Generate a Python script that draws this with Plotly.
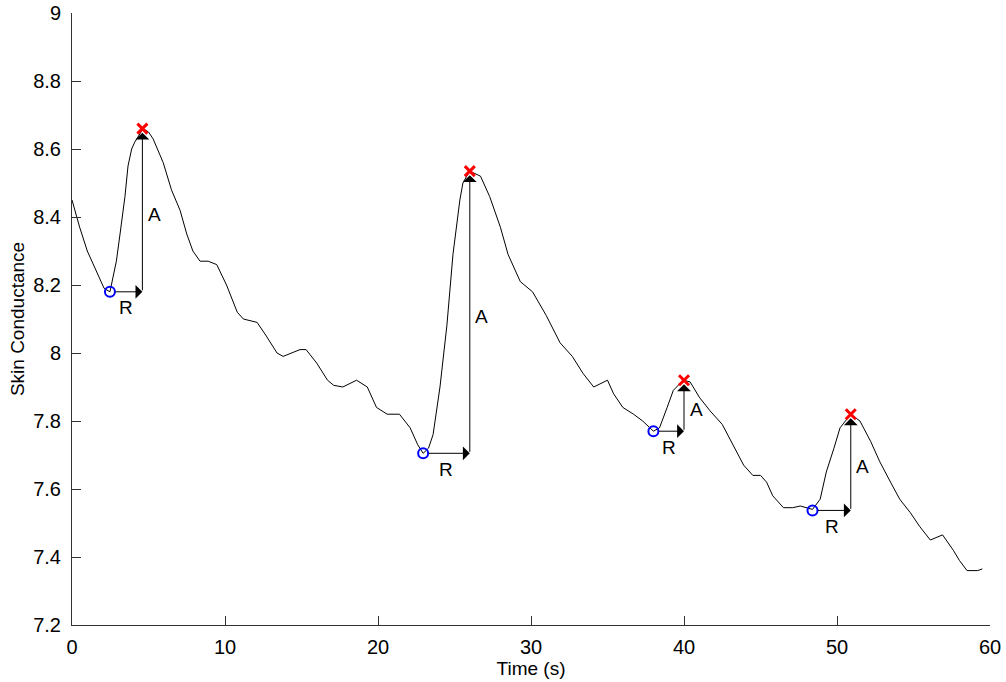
import plotly.graph_objects as go

# Skin conductance trace
time_s = [0.0, 0.5, 1.0, 1.5, 1.85, 2.1, 2.48, 2.9, 3.14, 3.46, 3.66, 3.9, 4.1, 4.4, 4.65,
          5.0, 5.3, 5.96, 6.5, 7.06, 7.5, 7.9, 8.37, 8.9, 9.46, 10.1, 10.8, 11.2, 12.1,
          12.7, 13.4, 13.8, 14.9, 15.3, 16.0, 16.7, 17.1, 17.7, 18.6, 19.3, 19.9, 20.6,
          21.4, 22.1, 22.6, 22.95, 23.3, 23.6, 24.05, 24.5, 24.9, 25.35, 25.55, 25.8,
          26.0, 26.7, 27.3, 28.0, 28.5, 29.3, 30.1, 31.0, 31.9, 32.7, 33.4, 34.1, 35.0,
          35.4, 36.0, 36.7, 37.3, 38.0, 38.4, 38.9, 39.3, 39.95, 40.4, 41.0, 41.7, 42.5,
          43.2, 43.9, 44.5, 45.0, 45.4, 45.8, 46.5, 47.1, 47.6, 48.0, 48.4, 48.9, 49.3,
          49.8, 50.2, 50.9, 51.5, 52.2, 52.8, 53.5, 54.1, 54.8, 55.4, 56.1, 56.7, 56.9,
          57.6, 58.0, 58.5, 59.2, 59.5]
conductance = [8.45, 8.37, 8.30, 8.25, 8.22, 8.19, 8.18, 8.27, 8.35, 8.46, 8.55, 8.60, 8.62,
               8.64, 8.66, 8.65, 8.63, 8.56, 8.48, 8.42, 8.35, 8.30, 8.27, 8.27, 8.26, 8.20,
               8.12, 8.10, 8.09, 8.05, 8.00, 7.99, 8.01, 8.01, 7.97, 7.92, 7.905, 7.90, 7.92,
               7.90, 7.84, 7.82, 7.82, 7.78, 7.73, 7.705, 7.72, 7.76, 7.90, 8.08, 8.29, 8.45,
               8.50, 8.52, 8.535, 8.52, 8.46, 8.37, 8.29, 8.21, 8.18, 8.11, 8.03, 7.99, 7.94,
               7.90, 7.92, 7.88, 7.84, 7.82, 7.80, 7.77, 7.78, 7.84, 7.89, 7.92, 7.915, 7.87,
               7.83, 7.79, 7.73, 7.67, 7.64, 7.64, 7.62, 7.58, 7.545, 7.545, 7.55, 7.545,
               7.54, 7.57, 7.65, 7.72, 7.78, 7.82, 7.80, 7.74, 7.68, 7.62, 7.57, 7.53, 7.49,
               7.45, 7.46, 7.465, 7.42, 7.39, 7.36, 7.36, 7.365]

# Response onsets (blue circles) and peaks (red crosses)
onset_t = [2.48, 22.95, 38.0, 48.4]
onset_v = [8.18, 7.705, 7.77, 7.537]
peak_t = [4.6, 26.0, 40.0, 50.9]
peak_v = [8.66, 8.535, 7.92, 7.82]

x_ticks = [0, 10, 20, 30, 40, 50, 60]
y_ticks = [7.2, 7.4, 7.6, 7.8, 8.0, 8.2, 8.4, 8.6, 8.8, 9.0]
y_tick_text = ["7.2", "7.4", "7.6", "7.8", "8", "8.2", "8.4", "8.6", "8.8", "9"]

FONT = "Arial, Liberation Sans, sans-serif"

fig = go.Figure()
fig.add_trace(go.Scatter(x=time_s, y=conductance, mode="lines",
                         line=dict(color="black", width=1), showlegend=False))
fig.add_trace(go.Scatter(x=onset_t, y=onset_v, mode="markers",
                         marker=dict(symbol="circle-open", size=10, color="#0000ff",
                                     line=dict(width=2, color="#0000ff")),
                         showlegend=False))
fig.add_trace(go.Scatter(x=peak_t, y=peak_v, mode="markers",
                         marker=dict(symbol="x-thin", size=10, color="#ff0000",
                                     line=dict(width=3, color="#ff0000")),
                         showlegend=False))

annotations = []
for ot, ov, pt, pv in zip(onset_t, onset_v, peak_t, peak_v):
    # Rise time arrow (R)
    annotations.append(dict(x=pt, y=ov, ax=ot, ay=ov, xref="x", yref="y",
                            axref="x", ayref="y", text="", showarrow=True,
                            arrowhead=1, arrowsize=2.3, arrowwidth=1, arrowcolor="black",
                            standoff=0, startstandoff=4))
    # Amplitude arrow (A)
    annotations.append(dict(x=pt, y=pv - 0.012, ax=pt, ay=ov, xref="x", yref="y",
                            axref="x", ayref="y", text="", showarrow=True,
                            arrowhead=1, arrowsize=2.3, arrowwidth=1, arrowcolor="black",
                            standoff=0))
    annotations.append(dict(x=(ot + pt) / 2, y=ov, xref="x", yref="y", text="R",
                            showarrow=False, yshift=-16,
                            font=dict(family=FONT, size=19, color="black")))
    annotations.append(dict(x=pt, y=(ov + pv) / 2, xref="x", yref="y", text="A",
                            showarrow=False, xshift=12, yshift=-4,
                            font=dict(family=FONT, size=19, color="black")))

fig.update_layout(
    width=1006, height=682, autosize=False,
    margin=dict(l=72, r=16, t=13, b=57, pad=0, autoexpand=False),
    paper_bgcolor="white", plot_bgcolor="white",
    font=dict(family=FONT, size=19, color="black"),
    annotations=annotations,
)
fig.update_xaxes(range=[0, 60], tickvals=x_ticks, ticks="inside", ticklen=9,
                 tickcolor="#333", linecolor="#333", linewidth=1, showline=True,
                 showgrid=False, zeroline=False, ticklabelstandoff=4, automargin=False,
                 tickfont=dict(family=FONT, size=20),
                 title=dict(text="Time (s)", standoff=2,
                            font=dict(family=FONT, size=19)))
fig.update_yaxes(range=[7.2, 9.0], tickvals=y_ticks, ticktext=y_tick_text,
                 ticks="inside", ticklen=9, tickcolor="#333", linecolor="#333",
                 linewidth=1, showline=True, showgrid=False, zeroline=False,
                 ticklabelstandoff=6, automargin=False,
                 tickfont=dict(family=FONT, size=20),
                 title=dict(text="Skin Conductance", standoff=3,
                            font=dict(family=FONT, size=19)))

fig.write_html("out.html")
